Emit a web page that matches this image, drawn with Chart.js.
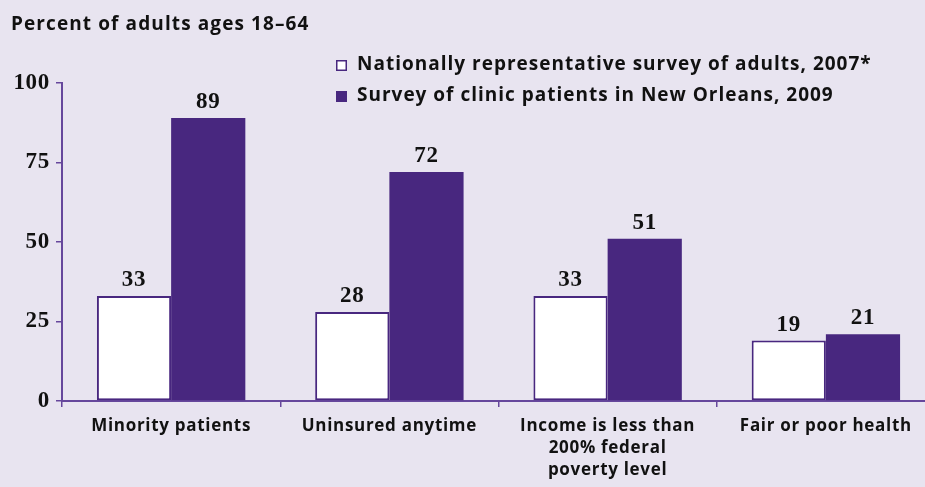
<!DOCTYPE html>
<html>
<head>
<meta charset="utf-8">
<script src="https://cdn.jsdelivr.net/npm/chart.js@4"></script>
<style>
  html, body { margin: 0; padding: 0; background: #e8e4f0; overflow: hidden; }
  #wrap { position: relative; width: 925px; height: 487px; overflow: hidden; }
  canvas { position: absolute; left: 0; top: 0; }
</style>
</head>
<body>
<div id="wrap"><canvas id="chart" width="935" height="487"></canvas></div>
<script>
const categories = [
  'Minority patients',
  'Uninsured anytime',
  ['Income is less than', '200% federal', 'poverty level'],
  'Fair or poor health'
];
const national2007 = [33, 28, 33, 19];
const clinic2009 = [89, 72, 51, 21];
const seriesNames = [
  'Nationally representative survey of adults, 2007*',
  'Survey of clinic patients in New Orleans, 2009'
];
const yTicks = [0, 25, 50, 75, 100];

const purple = '#48277f';
const axisPurple = '#66479c';
const sans = '"Open Sans", "Noto Sans", sans-serif';
const serif = '"Liberation Serif", "DejaVu Serif", serif';

// the reference type is a bit wider than anything installed, so space it out
const spacingPlugin = {
  id: 'spacing',
  beforeDraw(chart) {
    chart.ctx.letterSpacing = '0.7px';
  }
};

// title + legend drawn on the canvas
const headerPlugin = {
  id: 'header',
  afterDraw(chart) {
    const ctx = chart.ctx;
    ctx.save();
    ctx.fillStyle = '#111';
    ctx.textBaseline = 'middle';
    ctx.textAlign = 'left';
    ctx.letterSpacing = '1.1px';
    ctx.font = 'bold 19px ' + sans;
    ctx.fillText('Percent of adults ages 18\u201364', 11, 25);

    ctx.letterSpacing = '1px';
    const rows = [65, 96];
    rows.forEach((y, i) => {
      if (i === 0) {
        ctx.fillStyle = '#fff';
        ctx.fillRect(336, y - 5, 11, 11);
        ctx.strokeStyle = purple;
        ctx.lineWidth = 1.5;
        ctx.strokeRect(336.75, y - 4.25, 9.5, 9.5);
      } else {
        ctx.fillStyle = purple;
        ctx.fillRect(336, y - 5, 11, 11);
      }
      ctx.fillStyle = '#111';
      ctx.fillText(seriesNames[i], 357, y);
    });
    ctx.restore();
  }
};

// value labels above the bars
const valuePlugin = {
  id: 'values',
  afterDatasetsDraw(chart) {
    const ctx = chart.ctx;
    ctx.save();
    ctx.letterSpacing = '0.7px';
    ctx.font = 'bold 23px ' + serif;
    ctx.fillStyle = '#111';
    ctx.textAlign = 'center';
    ctx.textBaseline = 'alphabetic';
    chart.data.datasets.forEach((ds, di) => {
      chart.getDatasetMeta(di).data.forEach((bar, i) => {
        ctx.fillText(ds.data[i], bar.x, bar.y - 10);
      });
    });
    ctx.restore();
  }
};

new Chart(document.getElementById('chart'), {
  type: 'bar',
  data: {
    labels: categories,
    datasets: [
      {
        label: seriesNames[0],
        data: national2007,
        backgroundColor: '#ffffff',
        borderColor: purple,
        borderWidth: 2,
        borderSkipped: false
      },
      {
        label: seriesNames[1],
        data: clinic2009,
        backgroundColor: purple,
        borderColor: purple,
        borderWidth: 0
      }
    ]
  },
  options: {
    responsive: false,
    animation: false,
    categoryPercentage: 0.68,
    barPercentage: 1.0,
    layout: { padding: { top: 83, left: 0, right: 0, bottom: 0 } },
    plugins: {
      legend: { display: false },
      tooltip: { enabled: false }
    },
    scales: {
      x: {
        grid: { offset: true, drawOnChartArea: false, drawTicks: true, tickLength: 6, color: axisPurple, lineWidth: 1.5 },
        border: { display: true, color: axisPurple, width: 2 },
        ticks: {
          color: '#111',
          font: { family: sans, weight: 'bold', size: 17, lineHeight: 1.3 },
          padding: 8,
          maxRotation: 0,
          autoSkip: false
        },
        afterFit(scale) { scale.height = 86; }
      },
      y: {
        min: 0,
        max: 100,
        afterBuildTicks(scale) { scale.ticks = yTicks.map(v => ({ value: v })); },
        grid: { drawOnChartArea: false, drawTicks: true, tickLength: 6, color: axisPurple, lineWidth: 1.5 },
        border: { display: true, color: axisPurple, width: 2 },
        ticks: {
          color: '#111',
          font: { family: serif, weight: 'bold', size: 23 },
          padding: 6
        },
        afterFit(scale) { scale.width = 62; }
      }
    }
  },
  plugins: [spacingPlugin, headerPlugin, valuePlugin]
});
</script>
</body>
</html>
